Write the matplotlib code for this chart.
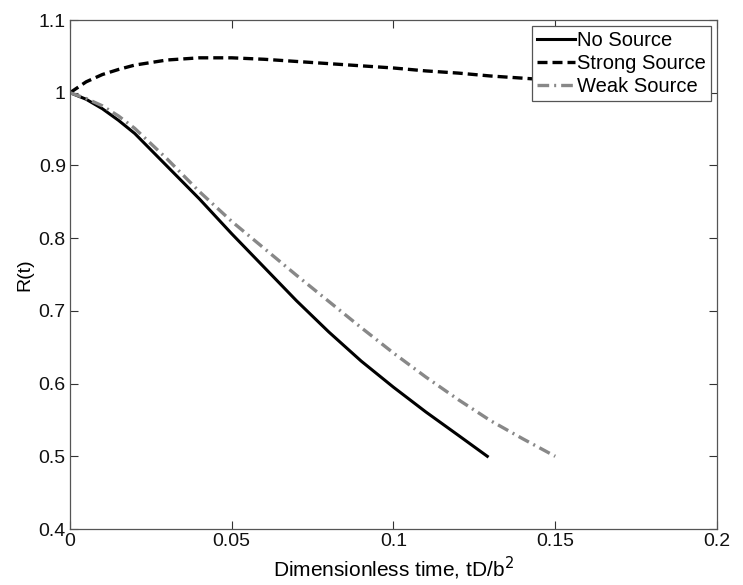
import numpy as np
import matplotlib.pyplot as plt

plt.rcParams["font.family"] = ["Liberation Sans", "DejaVu Sans"]

# =============================================================================
# Data
# =============================================================================

t_none = [0.0, 0.005, 0.01, 0.015, 0.02, 0.03, 0.04, 0.05, 0.06, 0.07,
          0.08, 0.09, 0.10, 0.11, 0.12, 0.129]
r_none = [1.0, 0.991, 0.978, 0.962, 0.944, 0.899, 0.854, 0.806, 0.760,
          0.714, 0.671, 0.631, 0.595, 0.561, 0.529, 0.5]

t_strong = [0.0, 0.005, 0.01, 0.015, 0.02, 0.03, 0.04, 0.05, 0.06, 0.07,
            0.08, 0.09, 0.10, 0.11, 0.12, 0.13, 0.14, 0.15, 0.16]
r_strong = [1.0, 1.015, 1.025, 1.032, 1.038, 1.045, 1.048, 1.048, 1.046,
            1.043, 1.040, 1.037, 1.034, 1.030, 1.027, 1.023, 1.020, 1.017,
            1.014]

t_weak = [0.0, 0.005, 0.01, 0.015, 0.02, 0.03, 0.04, 0.05, 0.06, 0.07,
          0.08, 0.09, 0.10, 0.11, 0.12, 0.13, 0.14, 0.15]
r_weak = [1.0, 0.992, 0.982, 0.968, 0.951, 0.909, 0.864, 0.823, 0.786,
          0.749, 0.713, 0.677, 0.642, 0.609, 0.578, 0.549, 0.524, 0.5]

x_ticks = [0, 0.05, 0.1, 0.15, 0.2]
x_tick_labels = ["0", "0.05", "0.1", "0.15", "0.2"]
y_ticks = [0.4, 0.5, 0.6, 0.7, 0.8, 0.9, 1.0, 1.1]
y_tick_labels = ["0.4", "0.5", "0.6", "0.7", "0.8", "0.9", "1", "1.1"]

# =============================================================================
# Plot
# =============================================================================

fig = plt.figure(figsize=(7.43, 5.85), dpi=100)
ax = fig.add_axes([0.0942, 0.0957, 0.8708, 0.8701])

ax.plot(t_none, r_none, color="black", linewidth=2.2, label="No Source")
ax.plot(t_strong, r_strong, color="black", linewidth=2.4,
        linestyle=(0, (3, 1.5)), label="Strong Source")
ax.plot(t_weak, r_weak, color="#888888", linewidth=2.4,
        linestyle=(0, (3.5, 1.5, 0.6, 1.5)), label="Weak Source")

ax.set_xlim(0, 0.2)
ax.set_ylim(0.4, 1.1)
ax.set_xticks(x_ticks)
ax.set_xticklabels(x_tick_labels)
ax.set_yticks(y_ticks)
ax.set_yticklabels(y_tick_labels)

ax.tick_params(direction="in", length=6, width=0.8, top=True, right=True,
               labelsize=14, colors="#333333", labelcolor="#111111", pad=3)
for spine in ax.spines.values():
    spine.set_color("#555555")
    spine.set_linewidth(0.9)

ax.set_xlabel(r"Dimensionless time, tD/b$^2$", fontsize=15, labelpad=3)
ax.set_ylabel("R(t)", fontsize=14, labelpad=4)

legend = ax.legend(loc="upper right", fontsize=14.5, fancybox=False,
                   framealpha=1, edgecolor="#555555", borderpad=0.25,
                   labelspacing=0.2, handlelength=1.9, handletextpad=0.1,
                   borderaxespad=0.3)
legend.get_frame().set_linewidth(0.9)

plt.savefig("out.png", dpi=100)
